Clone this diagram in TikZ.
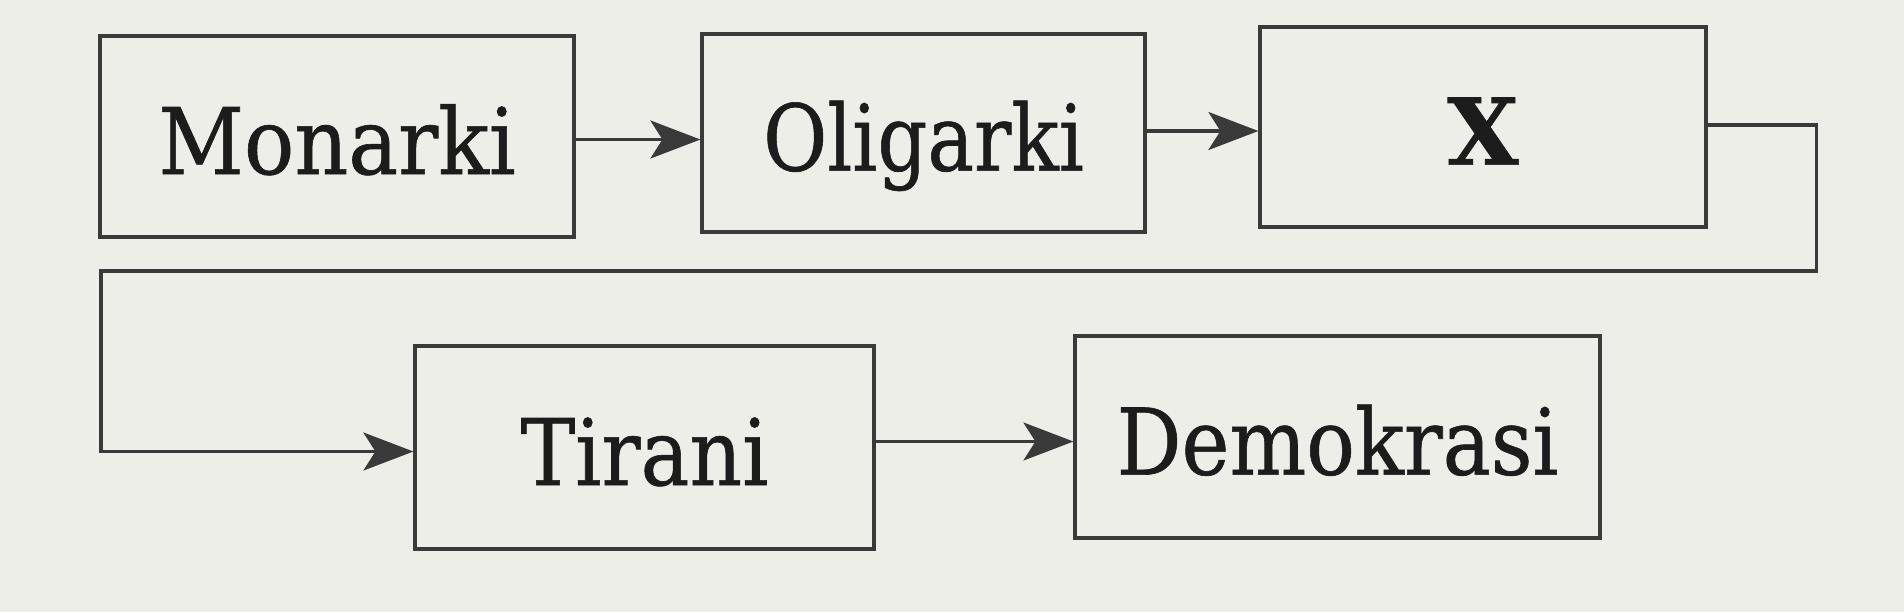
\documentclass[tikz,border=0pt]{standalone}
\usepackage{fontspec}
\setmainfont{DejaVu Serif}
\newfontfamily\boxfont{DejaVu Serif}[FakeBold=0.7]
\usetikzlibrary{arrows.meta}
\definecolor{paper}{RGB}{238,238,233}
\definecolor{ink}{RGB}{28,28,28}
\definecolor{linec}{RGB}{58,58,58}
\newcommand{\sq}[2]{\scalebox{#1}[1]{#2}}
\tikzset{
  box/.style={draw=linec, line width=1.6pt, fill=none, inner sep=0pt,
    text=ink, font=\boxfont\fontsize{46}{50}\selectfont,
    text height=37.6pt, text depth=0pt, align=center},
  conn/.style={draw=linec, line width=1.6pt,
    -{Stealth[length=25pt, width=19pt, inset=6pt]}},
}
\begin{document}
\begin{tikzpicture}[x=0.5pt, y=-0.5pt]
\fill[paper] (0,0) rectangle (1904,612);
\useasboundingbox (0,0) rectangle (1904,612);
\node[box, minimum width=237pt, minimum height=100.5pt] (mon) at (337,136.5) {\sq{0.91}{Monarki}};
\node[box, minimum width=221.5pt, minimum height=99pt] (oli) at (923.5,133) {\sq{0.85}{Oligarki}};
\node[box, minimum width=223pt, minimum height=100pt] (x) at (1483,127) {\textbf{X}};
\node[box, minimum width=229.5pt, minimum height=101.5pt] (tir) at (644.5,447.5) {\sq{0.89}{Tirani}};
\node[box, minimum width=262.5pt, minimum height=101pt] (dem) at (1337.5,437) {\sq{0.88}{Demokrasi}};
\coordinate (loopl) at (101,271);
\draw[conn] ([yshift=-1.5pt]mon.east) -- ([yshift=-1.5pt]mon.east -| oli.west);
\draw[conn] ([yshift=1pt]oli.east) -- ([yshift=1pt]oli.east -| x.west);
\draw[conn] ([yshift=3pt]tir.east) -- ([yshift=3pt]tir.east -| dem.west);
\draw[conn] ([yshift=1pt]x.east) -- ++(109,0) |- (loopl) |- ([yshift=-2pt]tir.west);
\end{tikzpicture}
\end{document}
